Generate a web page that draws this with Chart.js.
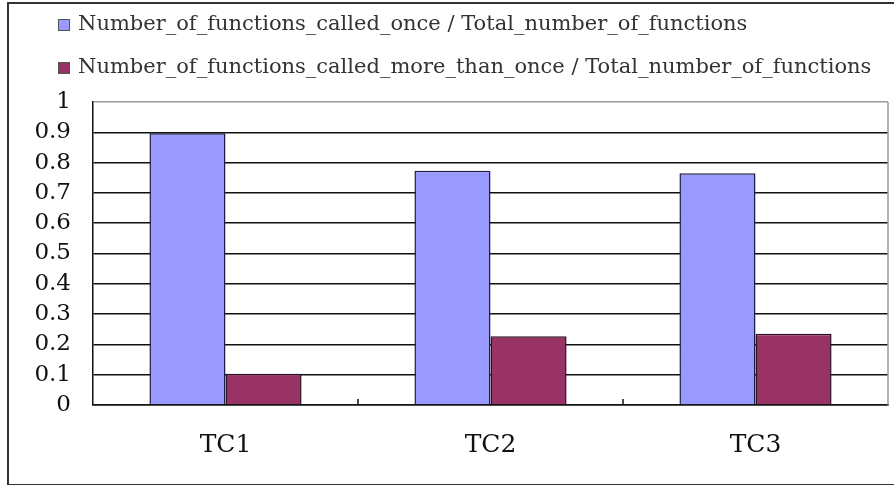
<!DOCTYPE html>
<html>
<head>
<meta charset="utf-8">
<script src="https://cdn.jsdelivr.net/npm/chart.js@4.4.1/dist/chart.umd.min.js"></script>
<style>
  html, body { margin: 0; padding: 0; background: #fff; overflow: hidden; }
  #frame { position: absolute; left: 7px; top: 2px; width: 890px; height: 480px; border: 2px solid #333; border-right: none; }
  #wrap { position: absolute; left: 0; top: 0; width: 894px; height: 485px; }
</style>
</head>
<body>
<div id="frame"></div>
<div id="wrap"><canvas id="chart"></canvas></div>
<script>
// data
const categories = ["TC1", "TC2", "TC3"];
const calledOnce = [0.897, 0.773, 0.765];
const calledMore = [0.103, 0.227, 0.235];
const seriesNames = [
  "Number_of_functions_called_once / Total_number_of_functions",
  "Number_of_functions_called_more_than_once / Total_number_of_functions"
];
const yTickLabels = ["0", "0.1", "0.2", "0.3", "0.4", "0.5", "0.6", "0.7", "0.8", "0.9", "1"];

const serif = '"DejaVu Serif", "Liberation Serif", serif';

// legend drawn top-left, one series per row
const rowLegend = {
  id: "rowLegend",
  afterDraw(chart) {
    const ctx = chart.ctx;
    ctx.save();
    ctx.font = "21px " + serif;
    ctx.textBaseline = "middle";
    chart.data.datasets.forEach((ds, i) => {
      const y = 25 + i * 43;
      ctx.fillStyle = ds.backgroundColor;
      ctx.fillRect(58, y - 6, 12, 12);
      ctx.strokeStyle = "#555";
      ctx.lineWidth = 1;
      ctx.strokeRect(58.5, y - 5.5, 11, 11);
      ctx.fillStyle = "#333";
      ctx.fillText(ds.label, 78, y);
    });
    ctx.restore();
  }
};

// gray right edge of plot + small ticks between categories
const plotExtras = {
  id: "plotExtras",
  beforeDatasetsDraw(chart) {
    const { ctx, chartArea } = chart;
    ctx.save();
    ctx.strokeStyle = "#999";
    ctx.lineWidth = 1.5;
    ctx.beginPath();
    ctx.moveTo(chartArea.right, chartArea.top);
    ctx.lineTo(chartArea.right, chartArea.bottom);
    ctx.stroke();
    ctx.restore();
  },
  afterDatasetsDraw(chart) {
    const { ctx, chartArea } = chart;
    const xs = chart.scales.x;
    ctx.save();
    ctx.strokeStyle = "#111";
    ctx.lineWidth = 1.5;
    for (let i = 1; i < categories.length; i++) {
      const x = Math.round((xs.getPixelForTick(i - 1) + xs.getPixelForTick(i)) / 2);
      ctx.beginPath();
      ctx.moveTo(x, chartArea.bottom);
      ctx.lineTo(x, chartArea.bottom - 6);
      ctx.stroke();
    }
    ctx.restore();
  }
};

new Chart(document.getElementById("chart"), {
  type: "bar",
  data: {
    labels: categories,
    datasets: [
      { label: seriesNames[0], data: calledOnce, backgroundColor: "#9999ff", borderColor: "#1c1c44", borderWidth: 1.5 },
      { label: seriesNames[1], data: calledMore, backgroundColor: "#993366", borderColor: "#2a1020", borderWidth: 1.5 }
    ]
  },
  options: {
    responsive: true,
    maintainAspectRatio: false,
    animation: false,
    layout: { padding: { top: 102, right: 6, left: 0, bottom: 0 } },
    datasets: { bar: { categoryPercentage: 0.574, barPercentage: 1 } },
    plugins: { legend: { display: false }, tooltip: { enabled: false } },
    scales: {
      x: {
        grid: { display: false },
        border: { color: "#111", width: 1.5 },
        ticks: { color: "#111", font: { family: serif, size: 25 }, padding: 17 },
        afterFit: s => { s.height = 80; }
      },
      y: {
        min: 0,
        max: 1,
        ticks: {
          stepSize: 0.1,
          autoSkip: false,
          color: "#111",
          font: { family: serif, size: 23 },
          padding: 22,
          callback: (v, i) => yTickLabels[i]
        },
        grid: {
          drawTicks: false,
          color: c => (c.index === yTickLabels.length - 1 ? "#999" : "#111"),
          lineWidth: 1.5
        },
        border: { color: "#111", width: 1.5 },
        afterFit: s => { s.width = 93; }
      }
    }
  },
  plugins: [rowLegend, plotExtras]
});
</script>
</body>
</html>
